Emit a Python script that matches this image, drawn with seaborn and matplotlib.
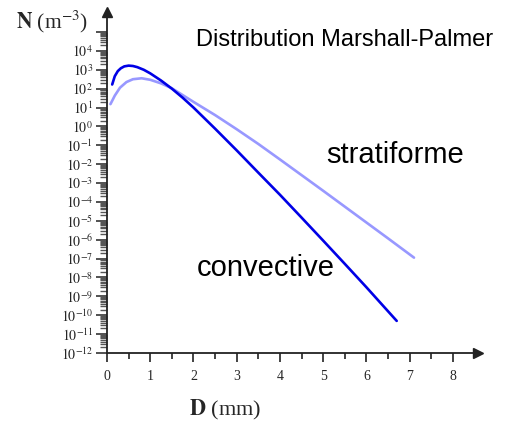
import numpy as np
import pandas as pd
import matplotlib
matplotlib.use("Agg")
import matplotlib.pyplot as plt
import matplotlib.ticker as mticker
import seaborn as sns

# ---- data (D in mm, log10 N in m^-3) ----
conv_D = [0.12, 0.18, 0.25, 0.32, 0.40, 0.50, 0.60, 0.70, 0.85, 1.00, 1.25, 1.50,
          1.75, 2.00, 2.50, 3.00, 3.50, 4.00, 4.50, 5.00, 5.50, 6.00, 6.70]
conv_logN = [2.22, 2.66, 2.93, 3.08, 3.18, 3.22, 3.20, 3.14, 3.00, 2.81, 2.43, 2.00,
             1.52, 1.00, -0.12, -1.27, -2.45, -3.62, -4.83, -6.05, -7.28, -8.52, -10.30]

strat_D = [0.08, 0.18, 0.30, 0.45, 0.60, 0.80, 1.00, 1.25, 1.50, 2.00, 2.50, 3.00,
           3.50, 4.00, 4.50, 5.00, 5.50, 6.00, 6.50, 7.10]
strat_logN = [1.18, 1.63, 2.05, 2.35, 2.50, 2.55, 2.47, 2.28, 2.02, 1.30, 0.60, -0.15,
              -0.93, -1.75, -2.58, -3.41, -4.25, -5.09, -5.93, -6.95]

series_names = ["convective", "stratiforme"]
series_colors = ["#0000e6", "#9898ff"]
x_ticks = [0, 1, 2, 3, 4, 5, 6, 7, 8]
y_exponents = list(range(-12, 6))

df = pd.concat([
    pd.DataFrame({"D": conv_D, "N": np.power(10.0, conv_logN), "type": series_names[0]}),
    pd.DataFrame({"D": strat_D, "N": np.power(10.0, strat_logN), "type": series_names[1]}),
])

sns.set_theme(style="white")
plt.rcParams["font.family"] = ["Liberation Serif", "DejaVu Serif"]
plt.rcParams["mathtext.fontset"] = "stix"

fig = plt.figure(figsize=(5.12, 4.24), dpi=100)
ax = fig.add_axes([107 / 512, 1 - 353 / 424, (478 - 107) / 512, (353 - 12) / 424])

sns.lineplot(data=df, x="D", y="N", hue="type", hue_order=series_names[::-1],
             palette=dict(zip(series_names, series_colors)), linewidth=1.9,
             legend=False, ax=ax, sort=True, estimator=None)

ax.set_yscale("log")
ax.set_xlim(0, 8.58)
ax.set_ylim(1e-12, 10 ** 6.06)

# spines
for s in ["top", "right"]:
    ax.spines[s].set_visible(False)
for s in ["left", "bottom"]:
    ax.spines[s].set_color("#222222")
    ax.spines[s].set_linewidth(1.3)
ax.plot(1, 0, ">", color="#222222", markersize=7, transform=ax.transAxes, clip_on=False)
ax.plot(0, 1, "^", color="#222222", markersize=7, transform=ax.transAxes, clip_on=False)

# x ticks
ax.set_xticks(x_ticks)
ax.xaxis.set_minor_locator(mticker.FixedLocator([v + 0.5 for v in x_ticks[:-1]]))
ax.tick_params(axis="x", which="major", direction="out", length=6.5, width=1.2,
               color="#222222", labelsize=10, pad=6, bottom=True)
ax.tick_params(axis="x", which="minor", direction="out", length=4.5, width=1.2,
               color="#222222", bottom=True)

# y ticks
ax.yaxis.set_major_locator(mticker.FixedLocator([10.0 ** e for e in y_exponents]))
ax.yaxis.set_major_formatter(mticker.FuncFormatter(
    lambda v, p: "" if v > 2e4 else r"$10^{%d}$" % int(round(np.log10(v)))))
minor = [m * 10.0 ** e for e in y_exponents[:-1] for m in range(2, 10)]
ax.yaxis.set_minor_locator(mticker.FixedLocator(minor))
ax.yaxis.set_minor_formatter(mticker.NullFormatter())
ax.tick_params(axis="y", which="major", direction="out", length=8, width=1.2,
               color="#333333", labelsize=10, pad=2, left=True)
ax.tick_params(axis="y", which="minor", direction="out", length=5, width=1.0,
               color="#555555", left=True)

ax.set_xlabel("")
ax.set_ylabel("")
ax.grid(False)

# axis titles
fig.text(16 / 512, 1 - 22 / 424, r"$\mathbf{N}$ (m$^{-3}$)", fontsize=15.5,
         ha="left", va="center", family=["Liberation Serif"])
fig.text(189 / 512, 1 - 410 / 424, r"$\mathbf{D}$ (mm)", fontsize=16,
         ha="left", va="center", family=["Liberation Serif"])

# annotations
fig.text(196 / 512, 1 - 40 / 424, "Distribution Marshall-Palmer", fontsize=17,
         ha="left", va="center", family=["Liberation Sans"], color="black")
fig.text(326 / 512, 1 - 155 / 424, "stratiforme", fontsize=21,
         ha="left", va="center", family=["Liberation Sans"], color="black")
fig.text(197 / 512, 1 - 268 / 424, "convective", fontsize=21,
         ha="left", va="center", family=["Liberation Sans"], color="black")

fig.savefig("out.png", dpi=100)
